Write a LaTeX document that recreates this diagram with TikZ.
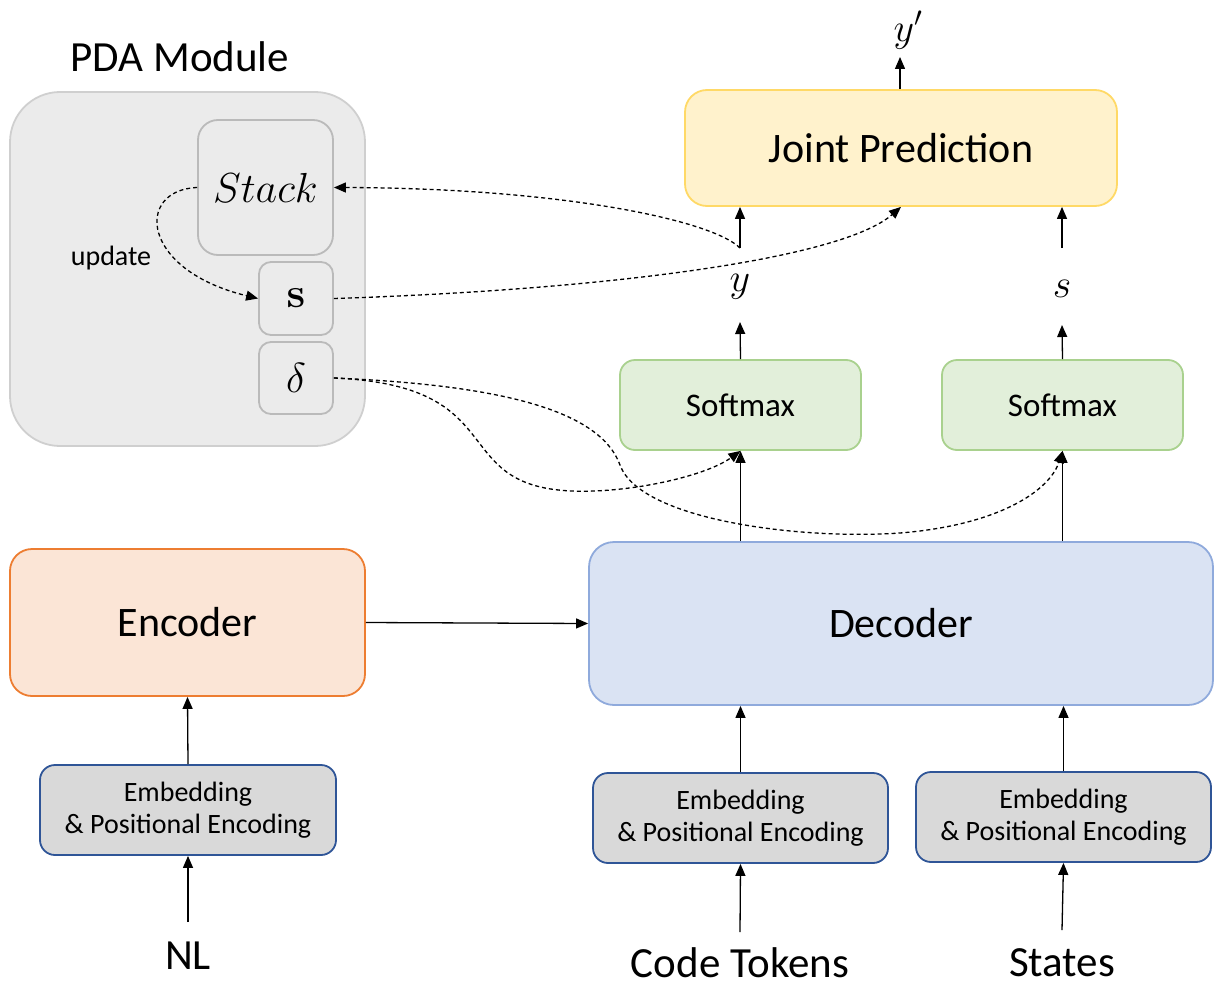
\RequirePackage{fix-cm}
\documentclass[tikz,border=0pt]{standalone}
\usepackage[no-math]{fontspec}
\setmainfont{Carlito}
\usetikzlibrary{arrows.meta,calc}
\definecolor{pdafill}{HTML}{EBEBEB}
\definecolor{pdaline}{HTML}{CFCFCF}
\definecolor{jfill}{HTML}{FFF2CC}
\definecolor{jline}{HTML}{FFD966}
\definecolor{smfill}{HTML}{E2EFDA}
\definecolor{smline}{HTML}{A9D18E}
\definecolor{decfill}{HTML}{DAE3F3}
\definecolor{decline}{HTML}{8FAADC}
\definecolor{encfill}{HTML}{FBE5D6}
\definecolor{encline}{HTML}{ED7D31}
\definecolor{embfill}{HTML}{D9D9D9}
\definecolor{embline}{HTML}{2F5597}
\tikzset{
  box/.style={draw, line width=1.8pt, inner sep=0pt, align=center},
  pdabox/.style={box, fill=pdafill, draw=pdaline},
  jbox/.style={box, fill=jfill, draw=jline, rounded corners=22pt},
  smbox/.style={box, fill=smfill, draw=smline, rounded corners=15pt, minimum width=241pt, minimum height=90pt, font=\fontsize{33}{36}\selectfont},
  decbox/.style={box, fill=decfill, draw=decline, rounded corners=25pt},
  encbox/.style={box, fill=encfill, draw=encline, rounded corners=22pt},
  embbox/.style={box, fill=embfill, draw=embline, rounded corners=15pt, minimum width=295pt, minimum height=90pt, font=\fontsize{28}{32}\selectfont},
  lbl/.style={inner sep=0pt, font=\fontsize{43}{48}\selectfont},
  mlbl/.style={inner sep=0pt, font=\fontsize{40}{44}\selectfont},
  arr/.style={-{Triangle[length=12pt,width=10pt]}, line width=1.3pt},
  darr/.style={-{Triangle[length=12pt,width=10pt]}, line width=1.3pt, dash pattern=on 4pt off 3pt}
}
\begin{document}
\begin{tikzpicture}[x=1pt,y=-1pt]
\useasboundingbox (0,0) rectangle (1214,987);
% PDA module
\node[pdabox, rounded corners=50pt, minimum width=355pt, minimum height=354pt] (pda) at (187.5,269) {};
\node[inner sep=0pt, font=\fontsize{43}{48}\selectfont] (pdatitle) at (180,57) {PDA Module};
\node[pdabox, rounded corners=20pt, minimum width=135pt, minimum height=135pt, draw=pdaline!90!black] (stack) at (265.5,187.5) {\fontsize{42}{46}\selectfont$Stack$};
\node[pdabox, rounded corners=12pt, minimum width=74pt, minimum height=73pt, draw=pdaline!90!black] (sbox) at (296,298.5) {\fontsize{42}{46}\selectfont$\mathbf{s}$};
\node[pdabox, rounded corners=12pt, minimum width=74pt, minimum height=72pt, draw=pdaline!90!black] (dbox) at (296,378) {\fontsize{42}{46}\selectfont$\delta$};
\node[inner sep=0pt, font=\fontsize{28}{32}\selectfont] (upd) at (111,258) {update};
% Joint prediction
\node[jbox, minimum width=432pt, minimum height=116pt, font=\fontsize{42}{46}\selectfont] (joint) at (901,148) {Joint Prediction};
\node[mlbl] (yp) at (908,30) {$y'$};
\node[mlbl] (ylab) at (740,287) {$y$};
\node[mlbl] (slab) at (1062,289) {$s$};
% Softmax
\node[smbox] (sm1) at (740.5,405) {Softmax};
\node[smbox] (sm2) at (1062.5,405) {Softmax};
% Decoder / Encoder
\node[decbox, minimum width=624pt, minimum height=163pt, font=\fontsize{42}{46}\selectfont] (dec) at (901,623.5) {Decoder};
\node[encbox, minimum width=355pt, minimum height=147pt, font=\fontsize{42}{46}\selectfont] (enc) at (187.5,622.5) {Encoder};
% Embeddings
\node[embbox, minimum width=296pt] (emb1) at (188,810) {Embedding\\\& Positional Encoding};
\node[embbox] (emb2) at (740.5,818) {Embedding\\\& Positional Encoding};
\node[embbox] (emb3) at (1063.5,817) {Embedding\\\& Positional Encoding};
% inputs
\node[lbl] (nl) at (188,956) {NL};
\node[lbl] (ct) at (740,963) {Code Tokens};
\node[lbl] (st) at (1062,963) {States};
% free ends
\coordinate (nlt) at (188,922);
\coordinate (ctt) at (740,932);
\coordinate (stt) at (1062,930);
\coordinate (ypb) at (900,57);
\coordinate (ylt) at (740,322);
\coordinate (ylb) at (740,248);
\coordinate (slt) at (1062,325);
\coordinate (slb) at (1062,248);
% solid arrows
\draw[arr] (enc.east) -- (dec.west);
\draw[arr] (emb1.north) -- (enc.south);
\draw[arr] (nlt) -- (emb1.south);
\draw[arr] (emb2.north) -- (emb2.north |- dec.south);
\draw[arr] (ctt) -- (emb2.south);
\draw[arr] (emb3.north) -- (emb3.north |- dec.south);
\draw[arr] (stt) -- (emb3.south);
\draw[arr] (sm1.south |- dec.north) -- (sm1.south);
\draw[arr] (sm2.south |- dec.north) -- (sm2.south);
\draw[arr] (sm1.north) -- (ylt);
\draw[arr] (sm2.north) -- (slt);
\draw[arr] (ylb) -- (ylb |- joint.south);
\draw[arr] (slb) -- (slb |- joint.south);
\draw[arr] (ypb |- joint.north) -- (ypb);
% dashed connectors
\draw[darr] (ylb) .. controls (712,220) and (560,188) .. (stack.east);
\draw[darr] (sbox.east) .. controls (600,290) and (840,260) .. (joint.south);
\draw[darr] (stack.west) .. controls (135,190) and (140,270) .. (sbox.west);
\draw[darr] (dbox.east) .. controls (500,385) and (455,470) .. (545,488) .. controls (600,499) and (700,480) .. (sm1.south);
\draw[darr] (dbox.east) .. controls (500,385) and (600,410) .. (620,465) .. controls (640,520) and (800,540) .. (900,533) .. controls (1000,525) and (1050,490) .. (sm2.south);
\end{tikzpicture}
\end{document}
